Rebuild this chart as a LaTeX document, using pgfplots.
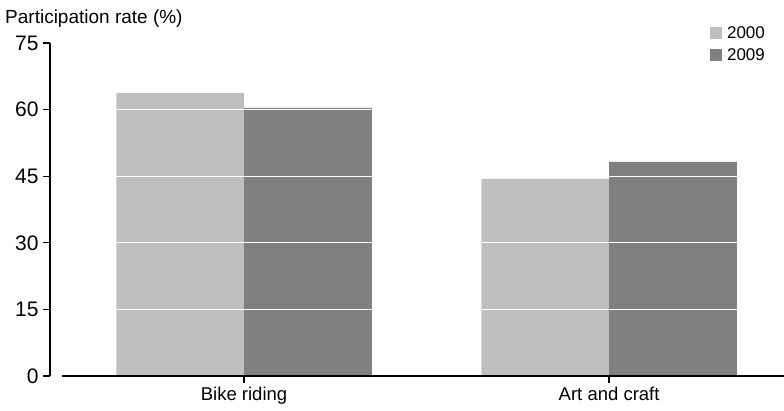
\documentclass[border=0pt]{standalone}
\usepackage{pgfplots}
\pgfplotsset{compat=1.18}
\usepackage{fontspec}
\setmainfont{Liberation Sans}

\definecolor{lightbar}{RGB}{191,191,191}
\definecolor{darkbar}{RGB}{128,128,128}

\begin{document}
\begin{tikzpicture}
\useasboundingbox (-50pt,-34pt) rectangle (734pt,376pt);
\begin{axis}[
    at={(0pt,0pt)}, anchor=south west,
    scale only axis,
    width=734pt, height=333pt,
    ybar=0pt,
    bar width=0.35,
    xmin=-0.5315, xmax=1.479,
    ymin=0, ymax=75,
    enlargelimits=false,
    axis x line*=bottom,
    axis y line*=left,
    separate axis lines,
    x axis line style={-, line width=1.5pt, shorten <=12pt},
    y axis line style={-, line width=1.5pt},
    xtick={0,1},
    xticklabels={Bike riding, Art and craft},
    ytick={0,15,30,45,60,75},
    tick align=outside,
    major tick length=7pt,
    tick style={black, line width=1.3pt},
    ymajorgrids=true,
    grid style={white, line width=1.3pt},
    axis on top=true,
    /pgf/number format/assume math mode=true,
    yticklabel style={font=\fontsize{21}{24}\selectfont, xshift=-1pt},
    xticklabel style={font=\fontsize{18.5}{21}\selectfont, yshift=-1pt},
    legend style={draw=none, fill=none, inner sep=0pt,
        at={(rel axis cs:0.899,1.051)}, anchor=north west,
        font=\fontsize{17}{19}\selectfont, row sep=9pt,
        nodes={inner sep=0pt}},
    legend image code/.code={\fill[#1] (0pt,-6pt) rectangle (12pt,6pt);
        \path (0pt,0pt) -- (17pt,0pt);},
    legend cell align=left,
]
\addplot[draw=none, fill=lightbar] coordinates {(0,63.7) (1,44.4)};
\addplot[draw=none, fill=darkbar] coordinates {(0,60.4) (1,48.2)};
\legend{2000,2009}
\end{axis}
\node[anchor=west, inner sep=0pt, font=\fontsize{19}{22}\selectfont] at (-45pt,357pt) {Participation rate (\%)};
\end{tikzpicture}
\end{document}
